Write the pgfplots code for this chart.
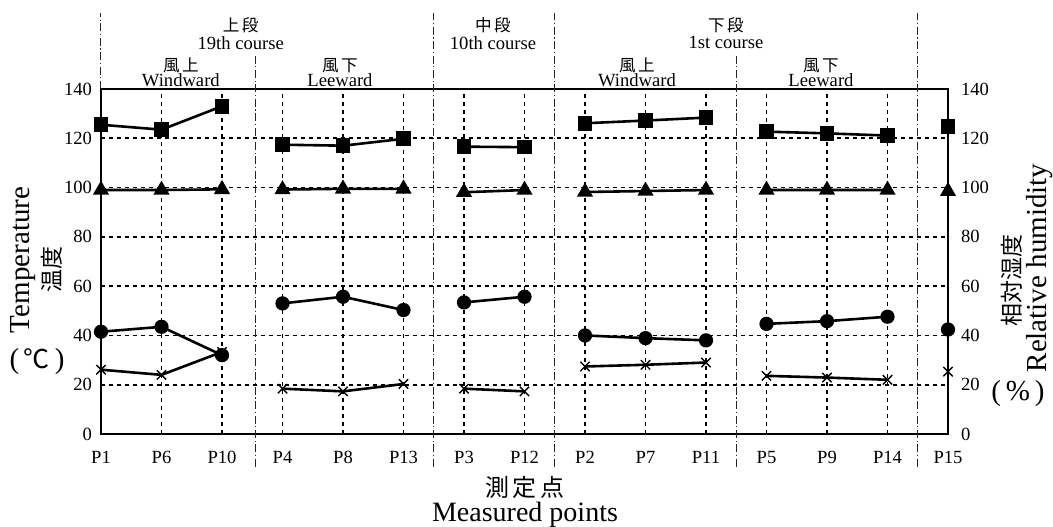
\documentclass[border=0pt]{standalone}
\usepackage{pgfplots}
\pgfplotsset{compat=1.18}
\usepackage{fontspec}
\setmainfont{Liberation Serif}
\newfontfamily\cjk{Noto Sans CJK JP}
\begin{document}
\begin{tikzpicture}[font=\fontsize{9.3}{10}\selectfont,
  sep/.style={black!85, line width=0.5pt, dash pattern=on 4pt off 1.3pt on 0.6pt off 1.3pt},
  hd/.style={font=\fontsize{9.3}{10}\selectfont, inner sep=0pt},
  hdc/.style={font=\fontsize{8.3}{10}\selectfont\cjk, inner sep=0pt}]
\useasboundingbox (-50.5pt,-46pt) rectangle (476pt,217pt);
\begin{axis}[
  at={(0,0)}, anchor=south west,
  scale only axis, width=423.5pt, height=172.5pt,
  xmin=0, xmax=14, ymin=0, ymax=140,
  xtick={0,...,14},
  xticklabels={P1,P6,P10,P4,P8,P13,P3,P12,P2,P7,P11,P5,P9,P14,P15},
  ytick={0,20,...,140},
  ytick pos=left, xtick pos=bottom,
  xmajorgrids, ymajorgrids,
  grid style={black, line width=0.9pt, dash pattern=on 2.2pt off 1.8pt},
  axis line style={line width=1.3pt},
  major tick length=0pt,
  unbounded coords=jump,
  clip=false,
  xticklabel style={yshift=-5pt},
  yticklabel style={xshift=-1pt},
  /pgf/number format/assume math mode=true,
  every axis plot/.append style={black, line width=1.3pt},
]
% separators
\draw[sep] (axis cs:0,140) -- (axis cs:0,170.7);
\draw[sep] (axis cs:2.55,-13.3) -- (axis cs:2.55,153.3);
\draw[sep] (axis cs:5.5,-13.3) -- (axis cs:5.5,170.7);
\draw[sep] (axis cs:7.5,-13.3) -- (axis cs:7.5,170.7);
\draw[sep] (axis cs:10.5,-13.3) -- (axis cs:10.5,153.3);
\draw[sep] (axis cs:13.5,-13.3) -- (axis cs:13.5,170.7);
% squares
\addplot[mark=square*, mark size=3pt] coordinates {
(0,125.5)(1,123.5)(2,133)(2.5,nan)
(3,117.4)(4,117)(5,119.8)(5.5,nan)
(6,116.6)(7,116.4)(7.5,nan)
(8,126.1)(9,127.2)(10,128.4)(10.5,nan)
(11,122.7)(12,122)(13,121.1)(13.5,nan)
(14,124.8)};
% triangles
\addplot[mark=triangle*, mark size=3.4pt] coordinates {
(0,99)(1,99)(2,99.3)(2.5,nan)
(3,99.2)(4,99.5)(5,99.5)(5.5,nan)
(6,98.1)(7,99)(7.5,nan)
(8,98.2)(9,98.6)(10,99)(10.5,nan)
(11,99)(12,99)(13,99)(13.5,nan)
(14,98.5)};
% circles
\addplot[mark=*, mark size=2.9pt] coordinates {
(0,41.5)(1,43.5)(2,32)(2.5,nan)
(3,53)(4,55.7)(5,50.3)(5.5,nan)
(6,53.4)(7,55.7)(7.5,nan)
(8,40)(9,38.9)(10,38)(10.5,nan)
(11,44.7)(12,45.8)(13,47.6)(13.5,nan)
(14,42.4)};
% crosses
\addplot[mark=x, mark size=3.3pt, mark options={line width=0.7pt}] coordinates {
(0,26.1)(1,24)(2,33.3)(2.5,nan)
(3,18.4)(4,17.3)(5,20.3)(5.5,nan)
(6,18.4)(7,17.3)(7.5,nan)
(8,27.4)(9,28.1)(10,29)(10.5,nan)
(11,23.6)(12,22.9)(13,22)(13.5,nan)
(14,25.3)};
% headers
\node[hdc] at (axis cs:2.31,165.7) {上\hspace{1.2pt}段};
\node[hd] at (axis cs:2.31,158.8) {19th course};
\node[hdc] at (axis cs:6.48,165.7) {中\hspace{1.2pt}段};
\node[hd] at (axis cs:6.48,158.8) {10th course};
\node[hdc] at (axis cs:10.33,165.7) {下\hspace{1.2pt}段};
\node[hd] at (axis cs:10.33,158.8) {1st course};
\node[hdc] at (axis cs:1.32,149.5) {風\hspace{1.2pt}上};
\node[hd] at (axis cs:1.32,143.4) {Windward};
\node[hdc] at (axis cs:3.95,149.5) {風\hspace{1.2pt}下};
\node[hd] at (axis cs:3.95,143.4) {Leeward};
\node[hdc] at (axis cs:8.86,149.5) {風\hspace{1.2pt}上};
\node[hd] at (axis cs:8.86,143.4) {Windward};
\node[hdc] at (axis cs:11.9,149.5) {風\hspace{1.2pt}下};
\node[hd] at (axis cs:11.9,143.4) {Leeward};
\end{axis}
\begin{axis}[
  at={(0,0)}, anchor=south west,
  scale only axis, width=423.5pt, height=172.5pt,
  xmin=0, xmax=14, ymin=0, ymax=140,
  ytick={0,20,...,140},
  yticklabel pos=right, ytick pos=right,
  xtick=\empty,
  axis line style={draw=none},
  major tick length=0pt,
  yticklabel style={xshift=3pt},
  /pgf/number format/assume math mode=true,
]
\addplot[draw=none] coordinates {(0,0)};
\end{axis}
% axis titles
\node[rotate=90, font=\fontsize{14.5}{16}\selectfont] at (-39pt,87pt) {Temperature};
\node[rotate=90, font=\fontsize{11.5}{13}\selectfont\cjk] at (-24.5pt,82.5pt) {温度};
\node[font=\fontsize{14.5}{16}\selectfont] at (-32pt,36pt) {(\,{\cjk\fontsize{13}{14}\selectfont ℃}\,)};
\node[rotate=90, font=\fontsize{14.5}{16}\selectfont] at (469.5pt,83pt) {Relative humidity};
\node[rotate=90, font=\fontsize{11.5}{13}\selectfont\cjk] at (455.5pt,77pt) {相対湿度};
\node[font=\fontsize{14.5}{16}\selectfont] at (458.5pt,20pt) {(\,\%\,)};
\node[font=\fontsize{12}{14}\selectfont\cjk] at (212pt,-26.5pt) {測\hspace{2pt}定\hspace{2pt}点};
\node[font=\fontsize{14}{16}\selectfont] at (212pt,-40.5pt) {Measured points};
\end{tikzpicture}
\end{document}
